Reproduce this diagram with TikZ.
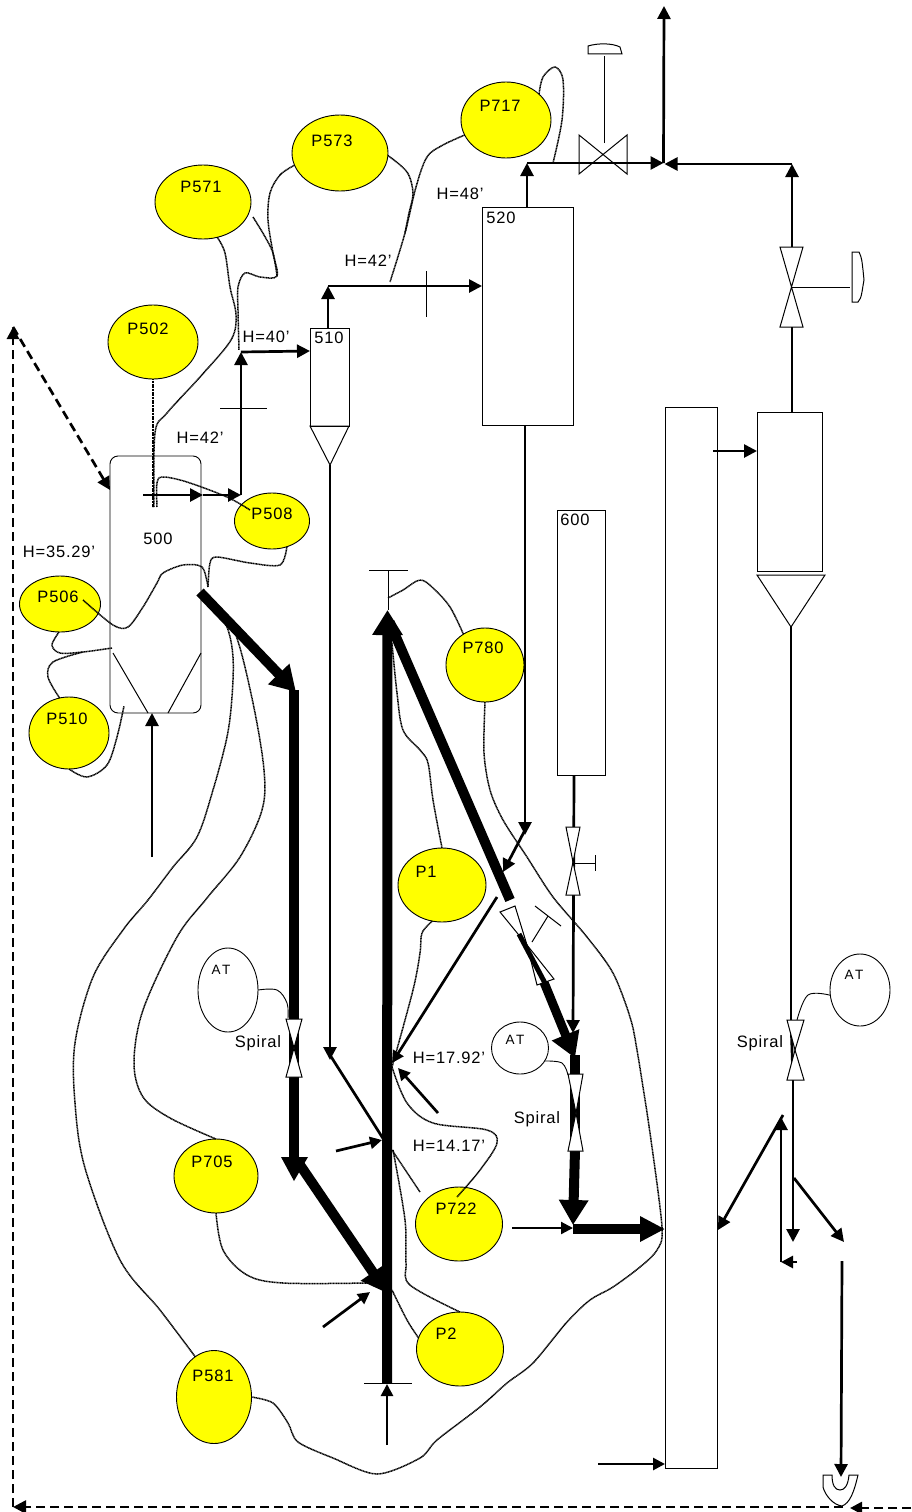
\documentclass[tikz,border=0pt]{standalone}
\usepackage{fontspec}
\setmainfont[LetterSpace=5]{Liberation Sans}
\newfontfamily\atfont[LetterSpace=18]{Liberation Sans}
\usetikzlibrary{shapes.geometric,arrows.meta}
\definecolor{tankyellow}{RGB}{255,255,0}
\tikzset{
  tank/.style={draw=black,fill=tankyellow,ellipse,line width=.9pt,inner sep=0pt,outer sep=0pt},
  atball/.style={draw=black,fill=white,ellipse,line width=.9pt,inner sep=0pt,outer sep=0pt},
  vessel/.style={draw=black,fill=white,rectangle,line width=.9pt,inner sep=0pt,outer sep=0pt},
  lbl/.style={text=black,inner sep=0pt,font=\fontsize{16.5}{18}\selectfont},
  atlbl/.style={text=black,inner sep=0pt,font=\fontsize{13.5}{15}\atfont},
  thinl/.style={draw=black,line width=1pt},
  valve/.style={draw=black,fill=white,line width=1pt,line join=miter},
  flow/.style={draw=black,line width=2.7pt},
  ahead/.style={-{Triangle[length=13pt,width=13pt]}},
  bhead/.style={-{Triangle[length=12pt,width=12pt]}},
  heavy/.style={draw=black,line width=10pt},
  hhead/.style={-{Triangle[length=25pt,width=28pt]}},
  sig/.style={draw=black,line width=1.5pt,dash pattern=on 1.1pt off .5pt},
  sigt/.style={draw=black,line width=.9pt},
  dashl/.style={draw=black,line width=2.7pt,dash pattern=on 9pt off 5pt},
}
\begin{document}
\begin{tikzpicture}[x=1pt,y=-1pt]
\useasboundingbox (0,0) rectangle (911,1512);
\fill[white] (0,0) rectangle (911,1512);

% vessels
\node[vessel,rounded corners=8pt,minimum width=91pt,minimum height=257pt] (v500) at (155.5,584.5) {};
\node[vessel,minimum width=39pt,minimum height=98pt] (v510) at (329.5,377) {};
\node[vessel,minimum width=91pt,minimum height=218pt] (v520) at (527.5,316) {};
\node[vessel,minimum width=48pt,minimum height=265pt] (v600) at (581,642.5) {};
\node[vessel,minimum width=52pt,minimum height=1061pt] (col) at (691,937.5) {};
\node[vessel,minimum width=65pt,minimum height=159pt] (vr) at (789.5,491.5) {};

\coordinate (cone510) at (330,465);
\coordinate (coner) at (791,627);
\draw[thinl] (310,426) -- (349,426) -- (cone510) -- cycle;
\draw[thinl] (757,575) -- (825,575) -- (coner) -- cycle;
\coordinate (hl) at (148,713);
\coordinate (hr) at (168,713);
\draw[thinl] (113,653) -- (hl);
\draw[thinl] (201,653) -- (hr);

% tanks
\node[tank,minimum width=96pt,minimum height=74pt] (P571) at (203,202) {};
\node[tank,minimum width=96pt,minimum height=76pt] (P573) at (340,153) {};
\node[tank,minimum width=90pt,minimum height=76pt] (P717) at (506,120) {};
\node[tank,minimum width=90pt,minimum height=74pt] (P502) at (153,342) {};
\node[tank,minimum width=75pt,minimum height=56pt] (P508) at (272,521) {};
\node[tank,minimum width=81pt,minimum height=56pt] (P506) at (60,604) {};
\node[tank,minimum width=80pt,minimum height=72pt] (P510) at (69,733) {};
\node[tank,minimum width=78pt,minimum height=74pt] (P780) at (485,665) {};
\node[tank,minimum width=88pt,minimum height=74pt] (P1) at (442,885) {};
\node[tank,minimum width=84pt,minimum height=74pt] (P705) at (216,1176) {};
\node[tank,minimum width=87pt,minimum height=74pt] (P722) at (459,1224) {};
\node[tank,minimum width=87pt,minimum height=74pt] (P2) at (460,1349) {};
\node[tank,minimum width=75pt,minimum height=93pt] (P581) at (214,1397) {};
\node[atball,minimum width=60pt,minimum height=84pt] (AT1) at (228,990) {};
\node[atball,minimum width=57pt,minimum height=52pt] (AT2) at (520,1048) {};
\node[atball,minimum width=60pt,minimum height=72pt] (AT3) at (860,990) {};

% labels
\node[lbl] (tP571) at (201,187) {P571};
\node[lbl] (tP573) at (332,141) {P573};
\node[lbl] (tP717) at (500,106) {P717};
\node[lbl] (tP502) at (148,329) {P502};
\node[lbl] (tP508) at (272,514) {P508};
\node[lbl] (tP506) at (58,597) {P506};
\node[lbl] (tP510) at (67,719) {P510};
\node[lbl] (tP780) at (483,648) {P780};
\node[lbl] (tP1) at (426,872) {P1};
\node[lbl] (tP705) at (212,1162) {P705};
\node[lbl] (tP722) at (456,1209) {P722};
\node[lbl] (tP2) at (446,1334) {P2};
\node[lbl] (tP581) at (213,1376) {P581};
\node[atlbl] (tAT1) at (221,970) {AT};
\node[atlbl] (tAT2) at (515,1040) {AT};
\node[atlbl] (tAT3) at (854,975) {AT};
\node[lbl] (t500) at (158,539) {500};
\node[lbl] (t510) at (329,338) {510};
\node[lbl] (t520) at (501,218) {520};
\node[lbl] (t600) at (575,520) {600};
\node[lbl] (h1) at (59,552) {H=35.29'};
\node[lbl] (h2) at (200,438) {H=42'};
\node[lbl] (h3) at (266,337) {H=40'};
\node[lbl] (h4) at (368,261) {H=42'};
\node[lbl] (h5) at (460,194) {H=48'};
\node[lbl] (h6) at (449,1058) {H=17.92'};
\node[lbl] (h7) at (449,1146) {H=14.17'};
\node[lbl] (sp1) at (258,1043) {Spiral};
\node[lbl] (sp2) at (537,1119) {Spiral};
\node[lbl] (sp3) at (760,1043) {Spiral};

% junction coordinates
\coordinate (a) at (143,495);
\coordinate (b) at (203,495);
\coordinate (c) at (241,495);
\coordinate (d) at (241,352);
\coordinate (e) at (328,328);
\coordinate (f) at (328,286);
\coordinate (g) at (527,207);
\coordinate (j) at (527,163);
\coordinate (k) at (663.5,163);
\coordinate (topout) at (664,6);
\coordinate (m) at (792,164);
\coordinate (n) at (792,247);
\coordinate (n2) at (792,327);
\coordinate (n3) at (792,412);
\coordinate (cin) at (713,451);
\coordinate (cin2) at (757,451);
\coordinate (r1) at (791,1020);
\coordinate (r2) at (793,1080);
\coordinate (r3) at (793,1242);
\coordinate (r4) at (794,1178);
\coordinate (r5) at (844,1242);
\coordinate (r6) at (842,1261);
\coordinate (r7) at (841,1477);
\coordinate (r8) at (783,1115);
\coordinate (r9) at (718,1230);
\coordinate (r10) at (781,1262);
\coordinate (r11) at (781,1117);
\coordinate (r12) at (797,1262);
\coordinate (dr) at (911,1508);
\coordinate (dr2) at (850,1508);
\coordinate (dm) at (843,1507);
\coordinate (dl) at (13,1507);
\coordinate (dt) at (13,327);
\coordinate (dw) at (110,490);

% signal curves
\draw[sig] (P502.south) -- (153,507);
\draw[sig] plot[smooth,tension=.55] coordinates {(P571.-68) (225,253) (230,287) (236,315) (231,340) (200,377) (167,413) (155,433) (154,507)};
\draw[sig] plot[smooth,tension=.55] coordinates {(P573.195) (280,175) (270,193) (268,220) (273,253) (277,276) (260,277) (245,273) (238,287) (238,310) (239,350)};
\draw[sig] plot[smooth,tension=.55] coordinates {(253,217) (264,235) (273,253) (277,276)};
\draw[sig] plot[smooth,tension=.55] coordinates {(250,510) (227,497) (187,482) (163,477) (157,483) (157,507)};
\draw[sig] plot[smooth,tension=.5] coordinates {(P508.-60) (280,565) (250,563) (217,557) (210,563) (208,587)};
\draw[sig] plot[smooth,tension=.5] coordinates {(208,587) (202,567) (183,565) (163,573) (157,583) (143,607) (128,627) (113,625) (83,600)};
\draw[sig] plot[smooth,tension=.55] coordinates {(P506.-92) (52,645) (60,653) (83,652) (112,648)};
\draw[sig] plot[smooth,tension=.55] coordinates {(P510.105) (48,677) (53,662) (83,652)};
\draw[sig] plot[smooth,tension=.55] coordinates {(P510.-90) (87,777) (107,765) (117,737) (124,706)};
\draw[sig] plot[smooth,tension=.55] coordinates {(212,605) (227,627) (233,657) (232,697) (227,737) (213,790) (197,837) (173,867) (148,900) (123,930) (93,977) (75,1043) (75,1103) (85,1168) (120,1260) (160,1310) (P581.115)};
\draw[sig] plot[smooth,tension=.55] coordinates {(212,605) (235,633) (253,703) (264,770) (262,810) (240,857) (207,898) (177,937) (143,1010) (134,1063) (143,1097) (170,1118) (P705.north)};
\draw[sig] plot[smooth,tension=.55] coordinates {(P705.south) (223,1250) (247,1275) (283,1283) (367,1283)};
\draw[sig] plot[smooth,tension=.55] coordinates {(392,1067) (407,1103) (433,1123) (487,1130) (497,1143) (480,1170) (457,1197)};
\draw[sig] plot[smooth,tension=.55] coordinates {(P2.north) (410,1285) (406,1263) (405,1220) (393,1150)};
\draw[sig] plot[smooth,tension=.55] coordinates {(P2.165) (407,1320) (392,1290)};
\draw[sig] (392,1150) -- (420,1192);
\draw[sig] plot[smooth,tension=.55] coordinates {(P1.-105) (422,933) (420,953) (413,990) (392,1067)};
\draw[sig] plot[smooth,tension=.55] coordinates {(P1.north) (433,800) (428,763) (420,750) (403,730) (397,693) (392,643)};
\draw[sig] plot[smooth,tension=.55] coordinates {(P780.125) (450,607) (433,588) (420,580) (403,590) (388,598)};
\draw[sig] plot[smooth,tension=.5] coordinates {(P780.south) (484,753) (490,790) (503,820) (527,857) (553,897) (587,937) (613,973) (630,1017) (637,1050) (650,1133) (662,1227) (657,1250) (640,1267) (613,1287) (590,1300) (567,1322) (533,1363) (507,1383) (480,1407) (437,1440) (420,1458) (377,1474) (333,1458) (298,1442) (288,1423) (273,1403) (P581.east)};
\draw[sig] plot[smooth,tension=.55] coordinates {(P717.38) (543,77) (555,67) (563,80) (562,120) (553,163)};
\draw[sig] plot[smooth,tension=.55] coordinates {(P717.200) (443,145) (427,157) (416,187) (405,233) (390,282)};
\draw[sig] plot[smooth,tension=.55] coordinates {(P573.-3) (407,172) (413,193) (409,213) (405,233)};
\draw[sigt] plot[smooth,tension=.6] coordinates {(AT1.east) (277,990) (287,1003) (288,1018)};
\draw[sigt] plot[smooth,tension=.6] coordinates {(545,1061) (562,1063) (568,1075)};
\draw[sigt] plot[smooth,tension=.6] coordinates {(AT3.190) (808,995) (797,1020)};

% thin flow lines
\draw[flow,ahead] (a) -- (b);
\draw[flow,ahead] (b) -- (c);
\draw[flow,ahead] (c) -- (d);
\draw[flow,ahead] (d) -- (v510.west |- 0,351);
\draw[flow,ahead] (e) -- (f);
\draw[flow,ahead] (f) -- (v520.west |- f);
\draw[flow,ahead] (g) -- (j);
\draw[flow,ahead] (j) -- (k);
\draw[flow,ahead] (k) -- (topout);
\draw[flow,ahead] (m) -- (664.5,164);
\draw[flow,ahead] (n) -- (m);
\draw[flow] (n2) -- (n3);
\draw[flow,ahead] (cin) -- (cin2);
\draw[flow] (coner) -- (r1);
\draw[flow] (r1) -- (r2);
\draw[flow,ahead] (r2) -- (r3);
\draw[flow,ahead] (r4) -- (r5);
\draw[flow,ahead] (r6) -- (r7);
\draw[flow,ahead] (r8) -- (r9);
\draw[flow,ahead] (r10) -- (r11);
\draw[flow,bhead] (r12) -- (r10);
\coordinate (s1) at (525,425);
\coordinate (s2) at (525,835);
\coordinate (s3) at (525,830);
\coordinate (s4) at (503,872);
\draw[flow,ahead] (s1) -- (s2);
\draw[flow,ahead] (s3) -- (s4);
\coordinate (u1) at (574,775);
\coordinate (u2) at (573,1033);
\draw[flow,ahead] (u1) -- (u2);
\coordinate (w0) at (330,1060);
\coordinate (w1) at (330,1055);
\coordinate (w2) at (384,1140);
\draw[flow,ahead] (cone510) -- (w0);
\draw[flow] (w1) -- (w2);
\coordinate (x1) at (336,1151);
\coordinate (x2) at (382,1140);
\draw[flow,bhead] (x1) -- (x2);
\coordinate (x3) at (497,897);
\coordinate (x4) at (392,1063);
\draw[flow,bhead] (x3) -- (x4);
\coordinate (x5) at (438,1113);
\coordinate (x6) at (398,1068);
\draw[flow,bhead] (x5) -- (x6);
\coordinate (x7) at (323,1327);
\coordinate (x8) at (370,1292);
\draw[flow,bhead] (x7) -- (x8);
\coordinate (x9) at (512,1228);
\coordinate (x10) at (573,1228);
\draw[line width=2.2pt,bhead] (x9) -- (x10);
\coordinate (x11) at (598,1464);
\draw[flow,bhead] (x11) -- (col.west |- x11);
\coordinate (x12) at (152,857);
\coordinate (x13) at (152,713);
\draw[flow,ahead] (x12) -- (x13);
\coordinate (x14) at (387,1445);
\coordinate (x15) at (387,1384);
\draw[flow,bhead] (x14) -- (x15);

% heavy lines
\coordinate (h00) at (200,592);
\coordinate (h01) at (296,692);
\coordinate (h02) at (294,1160);
\coordinate (h03) at (298,1162);
\coordinate (h04) at (387,1293);
\coordinate (h05) at (387,1383);
\coordinate (h06) at (387.5,610);
\coordinate (h07) at (510,900);
\coordinate (h08) at (541,975);
\coordinate (h09) at (575,1058);
\coordinate (h10) at (575,1150);
\coordinate (h11) at (573,1225);
\coordinate (h12) at (573,1229);
\coordinate (h13) at (665,1229);
\draw[heavy,hhead] (h00) -- (h01);
\draw[heavy] (294,690) -- (h02);
\fill[black] (281,1157) -- (308,1157) -- (294,1181) -- cycle;
\draw[heavy,hhead] (h03) -- (h04);
\draw[heavy,-{Triangle[length=25pt,width=29pt]}] (h05) -- (h06);
\draw[heavy] (h06) ++(2,12) -- (h07);
\draw[heavy,line width=9pt,hhead] (h08) -- (h09);
\draw[heavy] (575,1055) -- (h10);
\draw[heavy,hhead] (h10) -- (h11);
\draw[heavy,-{Triangle[length=25pt,width=24pt]}] (h12) -- (h13);

% valves
\draw[thinl] (579,135) -- (579,174) -- (627,135) -- (627,174) -- cycle;
\coordinate (st1) at (604,143);
\coordinate (st2) at (604,56);
\draw[thinl] (st1) -- (st2);
\draw[thinl] (588,54) -- (588,46) .. controls (598,43) and (612,43) .. (620,47) -- (622,54) -- cycle;
\draw[thinl] (780,247) -- (803,247) -- (780,327) -- (803,327) -- cycle;
\coordinate (st3) at (792,287);
\coordinate (st4) at (850,287);
\draw[thinl] (st3) -- (st4);
\draw[thinl] (852,252) -- (859,252) .. controls (862,258) and (862,262) .. (863,270) -- (864,280) .. controls (862,290) and (862,298) .. (858,302) -- (852,302) -- cycle;
\draw[valve] (286,1019) -- (302,1019) -- (294,1048) -- cycle;
\draw[valve] (286,1077) -- (302,1077) -- (294,1048) -- cycle;
\draw[valve] (787,1020) -- (804,1020) -- (795,1050) -- cycle;
\draw[valve] (787,1080) -- (804,1080) -- (795,1050) -- cycle;
\draw[valve] (566,827) -- (580,827) -- (573,862) -- cycle;
\draw[valve] (566,895) -- (580,895) -- (573,862) -- cycle;
\coordinate (st5) at (573,863);
\coordinate (st6) at (595,863);
\draw[thinl] (st5) -- (st6);
\draw[thinl] (595,855) -- (595,871);
\draw[valve] (568,1074) -- (583,1074) -- (576,1113) -- cycle;
\draw[valve] (568,1151) -- (583,1151) -- (576,1113) -- cycle;
\draw[valve] (500,912) -- (515,906) -- (527,945) -- cycle;
\draw[valve] (537,985) -- (554,979) -- (527,945) -- cycle;
\draw[draw=black,line width=5pt] (519,934) -- (546,985);
\coordinate (st7) at (532,942);
\coordinate (st8) at (548,916);
\draw[thinl] (st7) -- (st8);
\draw[thinl] (535,906) -- (561,926);

% ticks
\draw[thinl] (220,408) -- (267,408);
\draw[thinl] (426,271) -- (426,317);
\coordinate (tt1) at (388,570);
\coordinate (tt2) at (388,610);
\draw[thinl] (tt1) -- (tt2);
\draw[thinl] (369,570) -- (408,570);
\draw[thinl] (364,1383) -- (412,1383);

% trap
\draw[thinl,fill=white] (823,1475) -- (823,1487) .. controls (825,1495) and (833,1505) .. (842,1506) .. controls (850,1503) and (854,1492) .. (858,1475) -- (849,1475) .. controls (848,1485) and (845,1490) .. (840,1490) .. controls (835,1490) and (832,1485) .. (832,1475) -- cycle;

% dashed recycle
\draw[dashl,-{Triangle[length=12pt,width=12pt]}] (dr) -- (dr2);
\draw[dashl,-{Triangle[length=13pt,width=13pt]}] (dm) -- (dl);
\draw[dashl,-{Triangle[length=12pt,width=12pt]}] (dl) -- (dt);
\draw[dashl,-{Triangle[length=13pt,width=13pt]}] (dt) -- (dw);
\end{tikzpicture}
\end{document}
